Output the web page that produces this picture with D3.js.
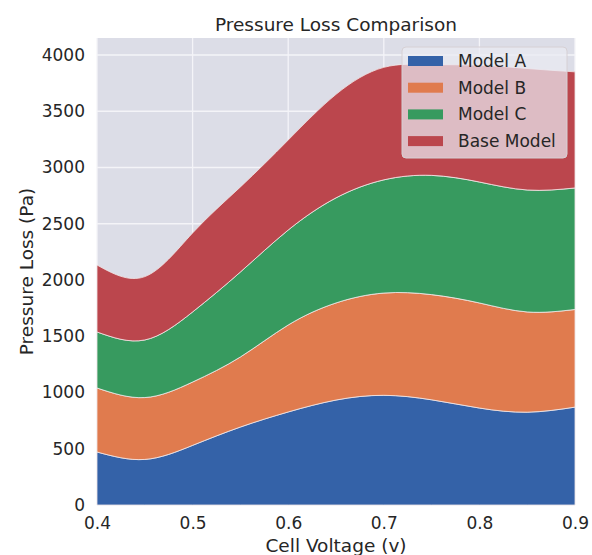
<!DOCTYPE html>
<html lang="en">
<head>
<meta charset="UTF-8">
<script src="https://d3js.org/d3.v7.min.js"></script>
<title>Pressure Loss Comparison</title>
<style>
  body { margin: 0; background: #fff; }
  text { font-family: "DejaVu Sans", sans-serif; fill: #262626; }
</style>
</head>
<body>
<script>
// values
var voltage   = [0.40, 0.45, 0.50, 0.55, 0.60, 0.65, 0.70, 0.75, 0.80, 0.85, 0.90];
var modelA    = [471, 405, 530, 693, 827, 933, 975, 935, 862, 825, 870];
var modelB    = [569, 550, 563, 623, 773, 863, 909, 935, 934, 891, 868];
var modelC    = [498, 512, 623, 755, 844, 934, 1006, 1060, 1075, 1084, 1080];
var baseModel = [595, 563, 702, 756, 800, 920, 1000, 985, 1039, 1080, 1032];

var seriesNames = ["Model A", "Model B", "Model C", "Base Model"];
var colors = ["#3462a8", "#e07b4e", "#379a5f", "#bb464d"];
var xTicks = [0.4, 0.5, 0.6, 0.7, 0.8, 0.9];
var yTicks = [0, 500, 1000, 1500, 2000, 2500, 3000, 3500, 4000];

var width = 592, height = 555;
var margin = {top: 38, right: 17, bottom: 50, left: 97};
var w = width - margin.left - margin.right;
var h = height - margin.top - margin.bottom;

var svg = d3.select("body").append("svg")
    .attr("width", width).attr("height", height);

var g = svg.append("g").attr("transform", "translate(" + margin.left + "," + margin.top + ")");

var rows = voltage.map(function(v, i) {
  return {v: v, "Model A": modelA[i], "Model B": modelB[i], "Model C": modelC[i], "Base Model": baseModel[i]};
});

var stacked = d3.stack().keys(seriesNames)(rows);

var x = d3.scaleLinear().domain([0.4, 0.9]).range([0, w]);
var y = d3.scaleLinear().domain([0, 4151]).range([h, 0]);

g.append("rect").attr("width", w).attr("height", h).attr("fill", "#dcdde7");

// grid
g.append("g").selectAll("line").data(xTicks).enter().append("line")
  .attr("x1", function(d) { return x(d); }).attr("x2", function(d) { return x(d); })
  .attr("y1", 0).attr("y2", h)
  .attr("stroke", "#f4f4f8").attr("stroke-width", 1.3);
g.append("g").selectAll("line").data(yTicks).enter().append("line")
  .attr("y1", function(d) { return y(d); }).attr("y2", function(d) { return y(d); })
  .attr("x1", 0).attr("x2", w)
  .attr("stroke", "#f4f4f8").attr("stroke-width", 1.3);

var area = d3.area()
  .curve(d3.curveNatural)
  .x(function(d) { return x(d.data.v); })
  .y0(function(d) { return y(d[0]); })
  .y1(function(d) { return y(d[1]); });

g.selectAll(".layer").data(stacked).enter().append("path")
  .attr("class", "layer")
  .attr("d", area)
  .attr("fill", function(d, i) { return colors[i]; })
  .attr("stroke", "#f2e8e8").attr("stroke-width", 0.8);

// axes
var xAxis = g.append("g").attr("transform", "translate(0," + h + ")")
  .call(d3.axisBottom(x).tickValues(xTicks).tickSize(0).tickPadding(12).tickFormat(d3.format(".1f")));
var yAxis = g.append("g")
  .call(d3.axisLeft(y).tickValues(yTicks).tickSize(0).tickPadding(12).tickFormat(d3.format("d")));
[xAxis, yAxis].forEach(function(a) {
  a.select(".domain").remove();
  a.selectAll("text").attr("font-size", 17).attr("font-family", "DejaVu Sans").attr("fill", "#262626");
});

// titles
svg.append("text").attr("x", margin.left + w / 2).attr("y", 31)
  .attr("text-anchor", "middle").attr("font-size", 18.5).text("Pressure Loss Comparison");
svg.append("text").attr("x", margin.left + w / 2).attr("y", 552)
  .attr("text-anchor", "middle").attr("font-size", 18.5).text("Cell Voltage (v)");
svg.append("text").attr("transform", "translate(33," + (margin.top + h / 2) + ") rotate(-90)")
  .attr("text-anchor", "middle").attr("font-size", 18.5).text("Pressure Loss (Pa)");

// legend
var lg = svg.append("g").attr("transform", "translate(402,47)");
lg.append("rect").attr("width", 165).attr("height", 111).attr("rx", 4)
  .attr("fill", "#eaeaf2").attr("fill-opacity", 0.72)
  .attr("stroke", "#d6d0d4").attr("stroke-width", 1);
var item = lg.selectAll(".item").data(seriesNames).enter().append("g")
  .attr("transform", function(d, i) { return "translate(6," + (14 + i * 26.7) + ")"; });
item.append("rect").attr("x", 0).attr("y", -5).attr("width", 35).attr("height", 10)
  .attr("fill", function(d, i) { return colors[i]; });
item.append("text").attr("x", 50).attr("y", 6).attr("font-size", 17).text(function(d) { return d; });
</script>
</body>
</html>
